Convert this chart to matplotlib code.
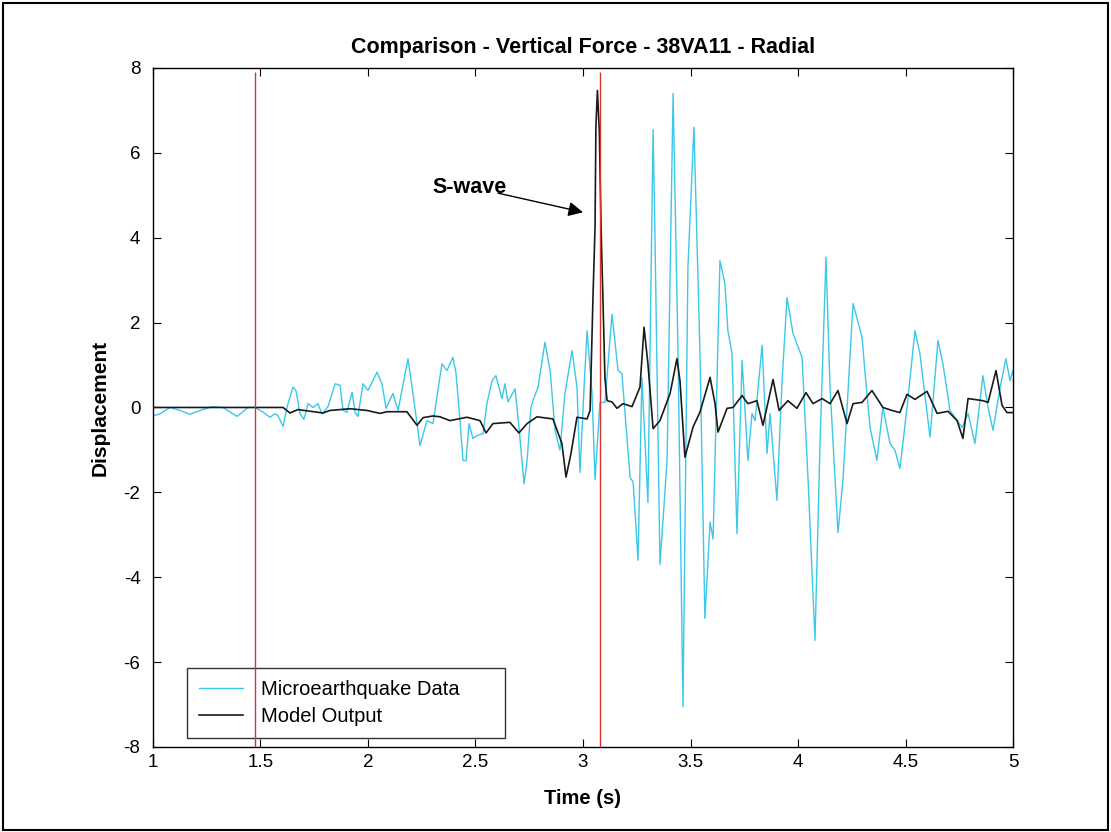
import matplotlib
matplotlib.use("Agg")
import matplotlib.pyplot as plt
from matplotlib.patches import Rectangle

plt.rcParams.update({
    "font.family": ["Liberation Sans", "DejaVu Sans"],
    "font.size": 13.5,
    "axes.linewidth": 1.0,
    "axes.unicode_minus": False,
    "xtick.direction": "in",
    "ytick.direction": "in",
    "xtick.top": True,
    "ytick.right": True,
    "xtick.major.size": 5.5,
    "ytick.major.size": 5.5,
})

# ---------------------------------------------------------------------------
# Data
# ---------------------------------------------------------------------------
quake_t = [
    1.000, 1.033, 1.079, 1.126, 1.172, 1.219, 1.274, 1.326, 1.391, 1.442,
    1.474, 1.512, 1.544, 1.567, 1.581, 1.605, 1.623, 1.651, 1.665, 1.684,
    1.702, 1.721, 1.744, 1.767, 1.786, 1.814, 1.847, 1.870, 1.884, 1.902,
    1.926, 1.940, 1.953, 1.977, 2.000, 2.042, 2.065, 2.084, 2.116, 2.140,
    2.186, 2.209, 2.242, 2.274, 2.302, 2.344, 2.367, 2.395, 2.409, 2.428,
    2.442, 2.456, 2.470, 2.488, 2.507, 2.535, 2.553, 2.577, 2.595, 2.623,
    2.637, 2.651, 2.684, 2.702, 2.726, 2.740, 2.758, 2.767, 2.791, 2.823,
    2.847, 2.870, 2.893, 2.916, 2.949, 2.972, 2.986, 3.005, 3.019, 3.042,
    3.056, 3.079, 3.102, 3.135, 3.163, 3.181, 3.219, 3.233, 3.256, 3.274,
    3.302, 3.326, 3.335, 3.358, 3.391, 3.419, 3.442, 3.465, 3.488, 3.516,
    3.544, 3.567, 3.591, 3.605, 3.637, 3.660, 3.674, 3.693, 3.716, 3.740,
    3.767, 3.786, 3.800, 3.833, 3.856, 3.870, 3.902, 3.926, 3.949, 3.977,
    4.019, 4.047, 4.079, 4.102, 4.130, 4.149, 4.186, 4.209, 4.256, 4.298,
    4.312, 4.335, 4.367, 4.395, 4.428, 4.451, 4.474, 4.507, 4.544, 4.567,
    4.614, 4.651, 4.674, 4.707, 4.763, 4.791, 4.823, 4.860, 4.884, 4.907,
    4.940, 4.967, 4.986, 5.000,
]
quake_disp = [
    -0.20, -0.15, 0.00, -0.07, -0.16, -0.07, 0.02, 0.00, -0.21, 0.00,
    0.00, -0.11, -0.23, -0.15, -0.19, -0.45, 0.00, 0.48, 0.40, -0.15,
    -0.28, 0.09, 0.00, 0.09, -0.15, 0.02, 0.56, 0.52, -0.07, -0.11,
    0.36, -0.11, -0.21, 0.56, 0.40, 0.83, 0.56, -0.02, 0.33, -0.07,
    1.15, 0.33, -0.90, -0.31, -0.38, 1.03, 0.87, 1.18, 0.83, -0.31,
    -1.25, -1.25, -0.38, -0.73, -0.66, -0.62, 0.09, 0.63, 0.75, 0.21,
    0.56, 0.13, 0.44, -0.46, -1.80, -1.25, 0.00, 0.16, 0.48, 1.54,
    0.87, -0.54, -1.01, 0.33, 1.34, 0.48, -1.53, 0.48, 1.81, 0.33,
    -1.70, 0.12, 0.12, 2.20, 0.87, 0.80, -1.65, -1.75, -3.60, 0.70,
    -2.24, 6.55, 3.96, -3.70, -1.25, 7.40, 1.30, -7.05, 3.30, 6.60,
    1.30, -4.97, -2.70, -3.10, 3.46, 2.92, 1.81, 1.27, -2.97, 1.11,
    -1.25, -0.14, -0.31, 1.46, -1.08, -0.14, -2.19, 0.64, 2.59, 1.74,
    1.18, -1.72, -5.49, -0.94, 3.54, 0.47, -2.95, -1.72, 2.45, 1.65,
    0.80, -0.47, -1.25, 0.00, -0.85, -1.01, -1.44, 0.00, 1.81, 1.27,
    -0.70, 1.58, 1.03, -0.07, -0.47, -0.14, -0.85, 0.75, 0.00, -0.54,
    0.47, 1.15, 0.63, 0.87,
]

model_t = [
    1.000, 1.605, 1.637, 1.674, 1.791, 1.823, 1.916, 1.995, 2.056, 2.088,
    2.181, 2.228, 2.256, 2.302, 2.335, 2.381, 2.460, 2.521, 2.549, 2.581,
    2.660, 2.702, 2.740, 2.786, 2.860, 2.902, 2.921, 2.944, 2.972, 3.019,
    3.033, 3.047, 3.056, 3.060, 3.067, 3.076, 3.084, 3.092, 3.102, 3.112,
    3.135, 3.158, 3.186, 3.228, 3.265, 3.284, 3.302, 3.326, 3.358, 3.405,
    3.437, 3.451, 3.474, 3.512, 3.544, 3.591, 3.614, 3.628, 3.670, 3.698,
    3.740, 3.767, 3.809, 3.837, 3.884, 3.912, 3.953, 3.995, 4.037, 4.070,
    4.112, 4.149, 4.186, 4.228, 4.256, 4.298, 4.344, 4.395, 4.437, 4.474,
    4.507, 4.544, 4.600, 4.647, 4.698, 4.740, 4.767, 4.791, 4.860, 4.884,
    4.921, 4.949, 4.972, 5.000,
]
model_disp = [
    0.00, 0.00, -0.13, -0.05, -0.13, -0.07, -0.03, -0.07, -0.14, -0.10,
    -0.10, -0.42, -0.24, -0.20, -0.22, -0.31, -0.23, -0.31, -0.60, -0.38,
    -0.35, -0.60, -0.38, -0.22, -0.27, -0.85, -1.64, -1.09, -0.23, -0.27,
    -0.07, 2.70, 4.25, 6.60, 7.47, 6.50, 4.25, 2.70, 0.70, 0.16,
    0.13, -0.02, 0.09, 0.02, 0.48, 1.89, 1.03, -0.50, -0.31, 0.33,
    1.15, 0.63, -1.17, -0.46, -0.11, 0.71, 0.09, -0.58, -0.02, 0.00,
    0.28, 0.09, 0.16, -0.42, 0.66, -0.07, 0.16, -0.02, 0.35, 0.09,
    0.21, 0.09, 0.40, -0.38, 0.09, 0.12, 0.40, 0.00, -0.07, -0.12,
    0.31, 0.19, 0.38, -0.14, -0.09, -0.31, -0.73, 0.21, 0.16, 0.12,
    0.87, 0.05, -0.12, -0.12,
]

pick_times = [1.475, 3.08]          # red arrival markers
x_ticks = [1, 1.5, 2, 2.5, 3, 3.5, 4, 4.5, 5]
y_ticks = [-8, -6, -4, -2, 0, 2, 4, 6, 8]

# ---------------------------------------------------------------------------
# Figure
# ---------------------------------------------------------------------------
fig = plt.figure(figsize=(11.11, 8.32), dpi=100, facecolor="white")
ax = fig.add_axes([0.1377, 0.1022, 0.7741, 0.8161])

ax.plot(quake_t, quake_disp, color="#3CC8E8", lw=1.0,
        label="Microearthquake Data", zorder=2)
ax.plot(model_t, model_disp, color="#1a1a1a", lw=1.2,
        label="Model Output", zorder=3)
ax.vlines(pick_times, -8, 7.9, colors="#E0302A", lw=1.0, zorder=6)

ax.set_xlim(1, 5)
ax.set_ylim(-8, 8)
ax.set_xticks(x_ticks)
ax.set_xticklabels([f"{t:g}" for t in x_ticks])
ax.set_yticks(y_ticks)
ax.tick_params(axis="x", labelsize=13.5, pad=5)
ax.tick_params(axis="y", labelsize=13.5, pad=9)

ax.set_title("Comparison - Vertical Force - 38VA11 - Radial",
             fontsize=15.5, fontweight="bold", pad=11)
ax.set_xlabel("Time (s)", fontsize=14.5, fontweight="bold", labelpad=13)
ax.set_ylabel("Displacement", fontsize=15, fontweight="bold", labelpad=10)

ax.text(2.474, 5.18, "S-wave", fontsize=15.5, fontweight="bold",
        ha="center", va="center")
ax.annotate("", xy=(3.0, 4.6), xytext=(2.605, 5.05),
            arrowprops=dict(arrowstyle="-|>", color="black", lw=1.0,
                            mutation_scale=22, shrinkA=0, shrinkB=0))

leg = ax.legend(loc="lower left", bbox_to_anchor=(0.0395, 0.0132, 0.37, 0.106),
                mode="expand", borderaxespad=0, fontsize=14.5, frameon=True,
                fancybox=False, edgecolor="black", handlelength=2.2,
                labelspacing=0.4, borderpad=0.6, handletextpad=0.9)
leg.get_frame().set_linewidth(1.0)
leg.set_zorder(5)

# scanned page border
fig.patches.append(Rectangle((0.003, 0.003), 0.994, 0.993, fill=False,
                             edgecolor="black", lw=1.5,
                             transform=fig.transFigure))

fig.savefig("out.png", dpi=100, facecolor="white")
